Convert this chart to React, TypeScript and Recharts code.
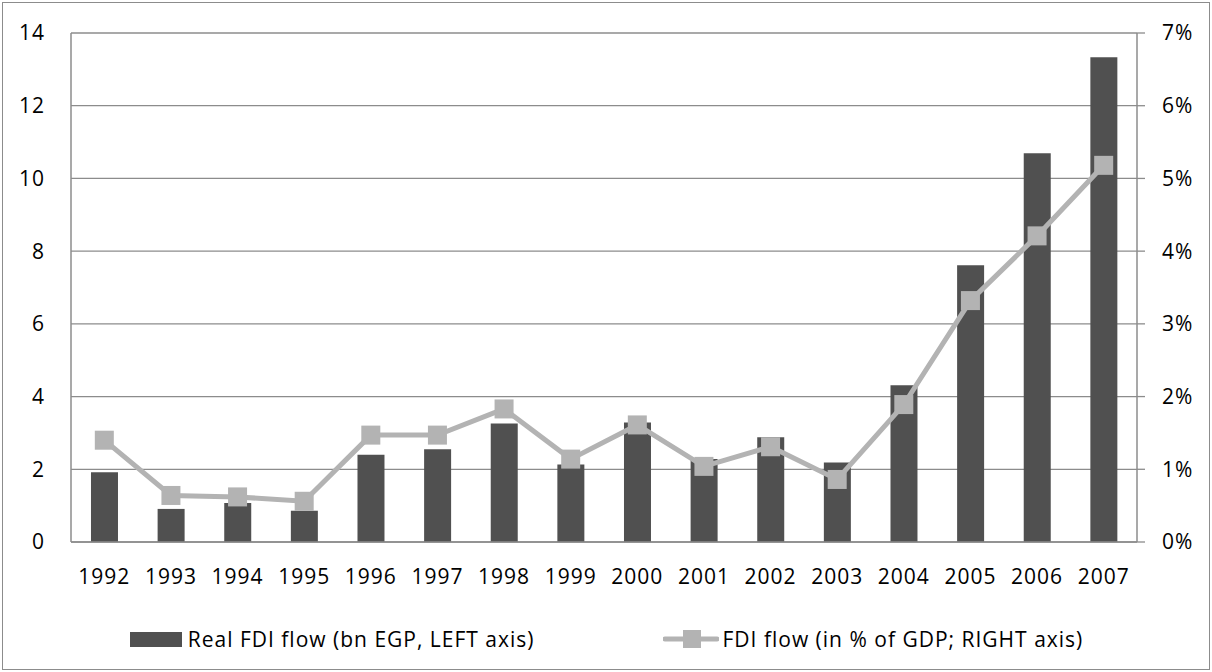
import { ComposedChart, Bar, Line, XAxis, YAxis, CartesianGrid, Legend } from 'recharts';

const years = ['1992', '1993', '1994', '1995', '1996', '1997', '1998', '1999', '2000', '2001', '2002', '2003', '2004', '2005', '2006', '2007'];
// real FDI flow, bn EGP (left axis)
const realFdi = [1.92, 0.91, 1.07, 0.86, 2.4, 2.55, 3.26, 2.13, 3.29, 2.28, 2.88, 2.19, 4.31, 7.61, 10.69, 13.33];
// FDI flow in % of GDP (right axis)
const fdiPctGdp = [1.4, 0.64, 0.62, 0.56, 1.47, 1.47, 1.83, 1.14, 1.61, 1.04, 1.31, 0.86, 1.89, 3.32, 4.21, 5.18];
const leftTicks = [0, 2, 4, 6, 8, 10, 12, 14];
const rightTicks = [0, 1, 2, 3, 4, 5, 6, 7];

const BAR_NAME = 'Real FDI flow (bn EGP, LEFT axis)';
const LINE_NAME = 'FDI flow (in % of GDP; RIGHT axis)';

const data = years.map((year, i) => ({ year, fdi: realFdi[i], pct: fdiPctGdp[i] }));

const FONT = '"Open Sans", sans-serif';
const AXIS = '#8c8c8c';
const BAR = '#505050';
const LINE = '#b3b3b3';
const tickStyle = { fill: '#000', fontSize: 21, fontFamily: FONT, letterSpacing: 1 };

const SquareDot = (props: any) => {
  const { cx, cy } = props;
  if (cx == null || cy == null) return null;
  return <rect x={cx - 9.5} y={cy - 9.5} width={19} height={19} fill={LINE} />;
};

const LegendBox = () => (
  <div
    style={{
      height: 80,
      display: 'flex',
      justifyContent: 'center',
      alignItems: 'center',
      paddingTop: 14,
      boxSizing: 'border-box',
      fontFamily: FONT,
      fontSize: 21,
      letterSpacing: 1,
      color: '#000',
      gap: 128,
    }}
  >
    <div style={{ display: 'flex', alignItems: 'center' }}>
      <span style={{ display: 'inline-block', width: 52, height: 15, background: BAR, marginRight: 6 }} />
      <span>{BAR_NAME}</span>
    </div>
    <div style={{ display: 'flex', alignItems: 'center' }}>
      <svg width={56} height={20} style={{ marginRight: 4 }}>
        <line x1={2} y1={10} x2={54} y2={10} stroke={LINE} strokeWidth={5} strokeLinecap="round" />
        <rect x={20} y={1} width={18} height={18} fill={LINE} />
      </svg>
      <span>{LINE_NAME}</span>
    </div>
  </div>
);

export default function App() {
  return (
    <div style={{ position: 'absolute', left: 0, top: 0, width: 1212, height: 672, background: '#fff' }}>
      <div
        style={{
          position: 'absolute',
          left: 2,
          top: 2,
          width: 1206,
          height: 666,
          border: `1px solid ${AXIS}`,
        }}
      />
      <ComposedChart
        width={1212}
        height={672}
        data={data}
        margin={{ top: 33, right: 10, bottom: 0, left: 11 }}
        barCategoryGap="30%"
        style={{ fontFamily: FONT }}
      >
        <CartesianGrid yAxisId="left" vertical={false} stroke={AXIS} strokeWidth={1.3} />
        <XAxis
          dataKey="year"
          height={50}
          axisLine={{ stroke: AXIS, strokeWidth: 1.5 }}
          tickLine={false}
          tickSize={0}
          tickMargin={27}
          tick={tickStyle}
          interval={0}
        />
        <YAxis
          yAxisId="left"
          orientation="left"
          width={60}
          domain={[0, 14]}
          ticks={leftTicks}
          axisLine={{ stroke: AXIS, strokeWidth: 1.5 }}
          tickLine={false}
          tickSize={0}
          tickMargin={26}
          tick={tickStyle}
        />
        <YAxis
          yAxisId="right"
          orientation="right"
          width={65}
          domain={[0, 7]}
          ticks={rightTicks}
          tickFormatter={(v: number) => `${v}%`}
          axisLine={{ stroke: AXIS, strokeWidth: 1.5 }}
          tickLine={{ stroke: AXIS, strokeWidth: 1.3 }}
          tickSize={8}
          tickMargin={17}
          tick={tickStyle}
        />
        <Legend verticalAlign="bottom" height={80} content={<LegendBox />} />
        <Bar yAxisId="left" dataKey="fdi" name={BAR_NAME} fill={BAR} isAnimationActive={false} />
        <Line
          yAxisId="right"
          dataKey="pct"
          name={LINE_NAME}
          stroke={LINE}
          strokeWidth={5}
          dot={<SquareDot />}
          activeDot={false}
          isAnimationActive={false}
        />
      </ComposedChart>
    </div>
  );
}
